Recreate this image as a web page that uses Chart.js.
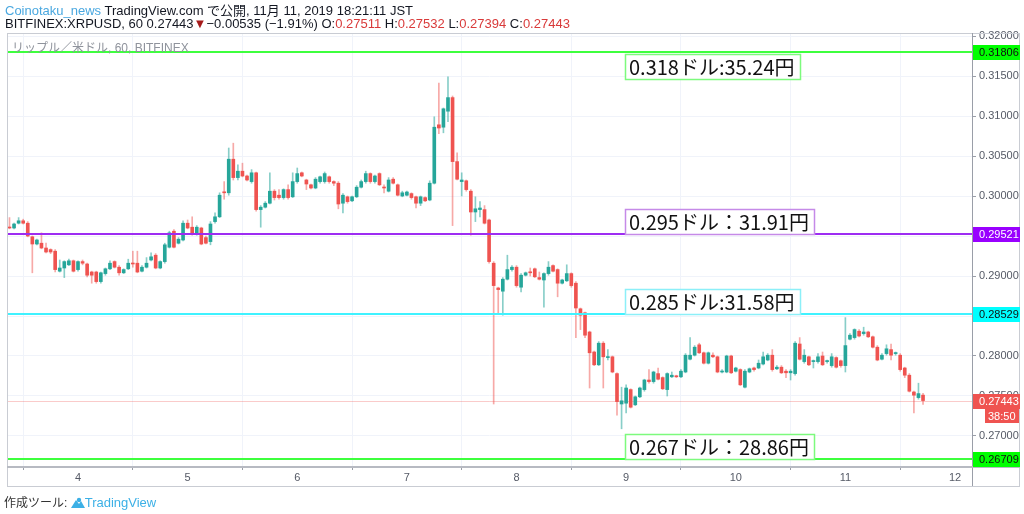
<!DOCTYPE html>
<html>
<head>
<meta charset="utf-8">
<script src="https://cdn.jsdelivr.net/npm/chart.js@4.4.0/dist/chart.umd.min.js"></script>
<style>
  body { margin: 0; background: #fff; }
  #wrap { position: relative; width: 1024px; height: 514px; overflow: hidden; font-family: "Liberation Sans", Arial, "Noto Sans CJK JP", sans-serif; }
  #chart { position: absolute; left: 0; top: 0; }
  .txt { position: absolute; white-space: nowrap; color: #131722; }
  .hd { left: 5px; font-size: 13px; line-height: 15px; }
  .blue { color: #4aa8e0; }
  .r { color: #d93a3a; }
  .dn { color: #a61b1b; font-size: 13px; }
  #sym { left: 12px; top: 38px; font-size: 12px; color: #8f939c; }
  #foot { left: 4px; top: 493px; font-size: 12px; color: #333; }
  #foot .tv { color: #3cb0e6; font-size: 13px; }
</style>
</head>
<body>
<div id="wrap">
  <canvas id="chart" width="1024" height="514"></canvas>
  <div class="txt hd" style="top:3px"><span class="blue">Coinotaku_news</span> TradingView.com で公開, 11月 11, 2019 18:21:11 JST</div>
  <div class="txt hd" style="top:16px">BITFINEX:XRPUSD, 60 0.27443<span class="dn">▼</span>−0.00535 (−1.91%) O:<span class="r">0.27511</span> H:<span class="r">0.27532</span> L:<span class="r">0.27394</span> C:<span class="r">0.27443</span></div>
  <div class="txt" id="sym">リップル／米ドル, 60, BITFINEX</div>
  <div class="txt" id="foot">作成ツール: <svg width="14" height="11" viewBox="0 0 14 11" style="vertical-align:-1px"><path d="M0 11 L5 3 L8 7 L10 4 L14 11 Z" fill="#3cb0e6"/><circle cx="8" cy="3" r="2.2" fill="#3cb0e6"/></svg><span class="tv">TradingView</span></div>
</div>
<script>
// 60-minute candles, XRP/USD, starting Nov 3 09:00
const firstBar = { day: 3, hour: 9 };

const open = [
  .2961, .2960, .2966, .2969, .2966, .2949, .2940, .2941, .2935, .2933,
  .2931, .2906, .2910, .2914, .2919, .2908, .2918, .2915, .2905, .2905,
  .2893, .2903, .2909, .2918, .2911, .2904, .2909, .2916, .2916, .2906,
  .2911, .2920, .2926, .2910, .2918, .2936, .2956, .2941, .2945, .2966,
  .2961, .2953, .2960, .2948, .2943, .2968, .2974, .3005, .3004, .3046,
  .3023, .3031, .3025, .3018, .3029, .2983, .2986, .2991, .3006, .3001,
  .2998, .3008, .2999, .3018, .3029, .3020, .3014, .3010, .3018, .3018,
  .3024, .3018, .3016, .2991, .2999, .2994, .2999, .3011, .3018, .3028,
  .3018, .3028, .3011, .3006, .3021, .3014, .3000, .3001, .3003, .2999,
  .2991, .2998, .2995, .3016, .3089, .3086, .3106, .3123, .3043, .3018,
  .3019, .3006, .2980, .2983, .2983, .2970, .2916, .2885, .2881, .2896,
  .2908, .2911, .2886, .2901, .2905, .2909, .2898, .2895, .2903, .2913,
  .2908, .2891, .2894, .2903, .2891, .2859, .2854, .2830, .2805, .2789,
  .2816, .2798, .2799, .2778, .2740, .2741, .2758, .2739, .2749, .2758,
  .2770, .2768, .2778, .2773, .2758, .2774, .2775, .2774, .2780, .2796,
  .2801, .2814, .2804, .2791, .2801, .2799, .2780, .2780, .2800, .2781,
  .2783, .2761, .2780, .2785, .2785, .2790, .2795, .2801, .2784, .2786,
  .2781, .2779, .2778, .2815, .2793, .2799, .2793, .2793, .2800, .2793,
  .2788, .2798, .2794, .2788, .2821, .2823, .2831, .2828, .2830, .2824,
  .2811, .2796, .2803, .2808, .2803, .2801, .2785, .2776, .2755, .2748,
  .27511
];
const high = [
  .2973, .2966, .2973, .2971, .2968, .2950, .2946, .2954, .2941, .2934,
  .2933, .2920, .2919, .2921, .2920, .2919, .2920, .2916, .2906, .2906,
  .2905, .2910, .2919, .2919, .2913, .2909, .2921, .2931, .2931, .2913,
  .2923, .2929, .2928, .2919, .2941, .2956, .2958, .2948, .2969, .2970,
  .2974, .2963, .2961, .2950, .2968, .2979, .3004, .3018, .3060, .3066,
  .3039, .3041, .3026, .3033, .3030, .2988, .2993, .3029, .3008, .3008,
  .3009, .3014, .3029, .3035, .3030, .3021, .3015, .3023, .3025, .3030,
  .3025, .3019, .3018, .3003, .3000, .3000, .3013, .3020, .3031, .3029,
  .3026, .3029, .3014, .3023, .3023, .3015, .3006, .3006, .3004, .3000,
  .3000, .2999, .3019, .3099, .3141, .3110, .3149, .3125, .3054, .3029,
  .3020, .3008, .2999, .2993, .2988, .2971, .2918, .2886, .2898, .2926,
  .2913, .2913, .2903, .2905, .2910, .2910, .2905, .2904, .2918, .2914,
  .2909, .2896, .2914, .2904, .2893, .2860, .2855, .2831, .2806, .2818,
  .2818, .2808, .2800, .2779, .2761, .2764, .2759, .2750, .2761, .2771,
  .2783, .2781, .2785, .2774, .2779, .2780, .2776, .2783, .2803, .2823,
  .2813, .2816, .2805, .2805, .2804, .2800, .2783, .2801, .2801, .2786,
  .2784, .2783, .2785, .2786, .2795, .2805, .2803, .2808, .2788, .2788,
  .2783, .2783, .2818, .2823, .2808, .2800, .2795, .2803, .2805, .2795,
  .2803, .2799, .2795, .2848, .2828, .2834, .2833, .2836, .2831, .2825,
  .2813, .2803, .2814, .2815, .2805, .2803, .2786, .2778, .2756, .2766,
  .27532
];
const low = [
  .2959, .2959, .2965, .2965, .2949, .2904, .2939, .2934, .2929, .2928,
  .2905, .2905, .2898, .2913, .2905, .2906, .2914, .2899, .2891, .2891,
  .2891, .2901, .2908, .2910, .2901, .2903, .2908, .2911, .2904, .2905,
  .2910, .2919, .2909, .2909, .2916, .2935, .2935, .2940, .2944, .2959,
  .2951, .2951, .2939, .2940, .2939, .2966, .2973, .2996, .3001, .3020,
  .3020, .3024, .3019, .3016, .2981, .2961, .2985, .2990, .2995, .2996,
  .2996, .2996, .2998, .3016, .3024, .3008, .3009, .3009, .3016, .3016,
  .3016, .3013, .2984, .2979, .2991, .2993, .2998, .3010, .3016, .3016,
  .3016, .3013, .3004, .3005, .3015, .3000, .2999, .3000, .2996, .2985,
  .2988, .2993, .2994, .3015, .3078, .3079, .3093, .2963, .3020, .3000,
  .3006, .2951, .2968, .2974, .2965, .2916, .2740, .2854, .2851, .2895,
  .2906, .2886, .2880, .2900, .2900, .2898, .2895, .2861, .2901, .2905,
  .2874, .2890, .2893, .2886, .2823, .2833, .2823, .2760, .2788, .2788,
  .2760, .2795, .2779, .2726, .2709, .2729, .2735, .2738, .2748, .2756,
  .2766, .2766, .2770, .2758, .2750, .2773, .2773, .2773, .2779, .2795,
  .2800, .2803, .2790, .2790, .2798, .2779, .2779, .2779, .2778, .2780,
  .2763, .2760, .2779, .2781, .2784, .2789, .2794, .2781, .2783, .2778,
  .2773, .2770, .2776, .2795, .2791, .2788, .2785, .2791, .2788, .2791,
  .2786, .2785, .2786, .2780, .2820, .2821, .2824, .2826, .2823, .2810,
  .2794, .2795, .2801, .2795, .2801, .2781, .2773, .2755, .2729, .2746,
  .27394
];
const close = [
  .2960, .2965, .2969, .2966, .2950, .2940, .2945, .2935, .2930, .2930,
  .2908, .2910, .2918, .2919, .2906, .2918, .2916, .2901, .2901, .2893,
  .2904, .2909, .2916, .2911, .2904, .2908, .2916, .2915, .2905, .2911,
  .2916, .2924, .2910, .2918, .2939, .2954, .2936, .2946, .2966, .2960,
  .2953, .2961, .2940, .2941, .2965, .2974, .3001, .3004, .3046, .3023,
  .3031, .3025, .3020, .3029, .2983, .2986, .2991, .3006, .2998, .2998,
  .3008, .2998, .3018, .3028, .3025, .3015, .3010, .3021, .3024, .3028,
  .3018, .3016, .2990, .3001, .2993, .2999, .3011, .3018, .3028, .3018,
  .3025, .3014, .3010, .3020, .3016, .3001, .3004, .3005, .2998, .2991,
  .2999, .2994, .3016, .3086, .3085, .3109, .3123, .3043, .3021, .3020,
  .3008, .2980, .2984, .2985, .2966, .2918, .2888, .2883, .2896, .2908,
  .2911, .2888, .2901, .2904, .2904, .2899, .2896, .2903, .2911, .2906,
  .2891, .2895, .2903, .2888, .2860, .2851, .2826, .2804, .2789, .2816,
  .2799, .2799, .2780, .2743, .2744, .2760, .2736, .2749, .2760, .2770,
  .2768, .2780, .2771, .2759, .2778, .2776, .2774, .2781, .2801, .2801,
  .2811, .2804, .2791, .2804, .2799, .2780, .2781, .2800, .2779, .2785,
  .2764, .2781, .2784, .2783, .2791, .2799, .2801, .2783, .2786, .2779,
  .2779, .2781, .2816, .2796, .2801, .2789, .2794, .2799, .2789, .2794,
  .2799, .2786, .2788, .2813, .2826, .2833, .2825, .2830, .2824, .2811,
  .2795, .2801, .2809, .2801, .2804, .2783, .2776, .2756, .2751, .2753,
  .27443
];

// horizontal levels drawn on the chart and their notes
const levels = [0.31806, 0.29521, 0.28529, 0.26709];
const levelNotes = ['0.318ドル:35.24円', '0.295ドル：31.91円', '0.285ドル:31.58円', '0.267ドル：28.86円'];
const lastPrice = 0.27443;
const countdown = '38:50';
const dayTicks = [4, 5, 6, 7, 8, 9, 10, 11, 12];

const levelStyle = [
  { line: '#3dff3d', box: '#7dfa7d', tag: '#00ff00', tagText: '#111', below: true },
  { line: '#9d2cf2', box: '#c58ae8', tag: '#9900ff', tagText: '#fff', below: false },
  { line: '#40f2ff', box: '#8ceff8', tag: '#00ffff', tagText: '#111', below: false },
  { line: '#3dff3d', box: '#7dfa7d', tag: '#00ff00', tagText: '#111', below: false }
];
const UP = '#26a69a', DOWN = '#ef5350';
const UP_WICK = 'rgba(38,166,154,0.55)', DOWN_WICK = 'rgba(239,83,80,0.5)';

const times = open.map((_, i) => firstBar.day + (firstBar.hour + i) / 24);
const isUp = i => close[i] >= open[i];

const overlay = {
  id: 'overlay',
  beforeDatasetsDraw(chart) {
    const { ctx, chartArea: a, scales: { y } } = chart;
    const py = Math.round(y.getPixelForValue(lastPrice)) + 0.5;
    ctx.save();
    ctx.strokeStyle = 'rgba(239,83,80,0.3)';
    ctx.lineWidth = 1;
    ctx.beginPath(); ctx.moveTo(a.left, py); ctx.lineTo(a.right, py); ctx.stroke();
    ctx.restore();
  },
  afterDatasetsDraw(chart) {
    const { ctx, chartArea: a, scales: { x, y } } = chart;
    ctx.save();
    levels.forEach((v, k) => {
      const py = Math.round(y.getPixelForValue(v));
      ctx.strokeStyle = levelStyle[k].line;
      ctx.lineWidth = 2;
      ctx.beginPath(); ctx.moveTo(a.left, py); ctx.lineTo(a.right, py); ctx.stroke();
    });
    ctx.font = '20px "Noto Sans CJK JP", "DejaVu Sans", sans-serif';
    ctx.textBaseline = 'middle';
    levels.forEach((v, k) => {
      const py = Math.round(y.getPixelForValue(v));
      const s = levelStyle[k];
      const bx = Math.round(x.getPixelForValue(9)) - 1;
      const w = Math.ceil(ctx.measureText(levelNotes[k]).width) + 9;
      const h = 25;
      const by = s.below ? py + 2 : py - h;
      ctx.fillStyle = '#fff';
      ctx.fillRect(bx, by, w, h);
      ctx.strokeStyle = s.box;
      ctx.lineWidth = 1.5;
      ctx.strokeRect(bx + 0.5, by + 0.5, w, h);
      ctx.fillStyle = '#111';
      ctx.fillText(levelNotes[k], bx + 4, by + h / 2 + 1);
    });
    ctx.restore();
  },
  afterDraw(chart) {
    const { ctx, chartArea: a, scales: { x, y } } = chart;
    ctx.save();
    // pane borders
    ctx.strokeStyle = '#c9ccd3';
    ctx.lineWidth = 1;
    ctx.strokeRect(a.left + 0.5, a.top + 0.5, 1019 - a.left, x.bottom - a.top);
    ctx.strokeStyle = '#9a9ea8';
    ctx.beginPath(); ctx.moveTo(a.right + 0.5, a.top); ctx.lineTo(a.right + 0.5, x.bottom); ctx.stroke();
    ctx.strokeStyle = '#b7bac2';
    ctx.lineWidth = 2;
    ctx.beginPath(); ctx.moveTo(a.left, a.bottom + 1); ctx.lineTo(1020, a.bottom + 1); ctx.stroke();
    // price tags on the right axis
    ctx.font = '11px "Liberation Sans", Arial, sans-serif';
    ctx.textBaseline = 'middle';
    const tag = (v, bg, fg) => {
      const py = Math.round(y.getPixelForValue(v));
      ctx.fillStyle = bg;
      ctx.fillRect(a.right + 1, py - 7, 1020 - a.right - 1, 15);
      ctx.fillStyle = fg;
      ctx.fillText(v.toFixed(5), a.right + 7, py + 1);
      return py;
    };
    levels.forEach((v, k) => tag(v, levelStyle[k].tag, levelStyle[k].tagText));
    const lp = tag(lastPrice, DOWN, '#fff');
    ctx.fillStyle = DOWN;
    ctx.fillRect(985, lp + 8, 34, 14);
    ctx.fillStyle = '#fff';
    ctx.fillText(countdown, 988, lp + 16);
    ctx.restore();
  }
};

new Chart(document.getElementById('chart').getContext('2d'), {
  type: 'bar',
  data: {
    datasets: [{
      data: times.map((t, i) => ({ x: t, y: [open[i], close[i]] })),
      backgroundColor: c => isUp(c.dataIndex) ? UP : DOWN,
      barThickness: 3,
      minBarLength: 1,
      grouped: false,
      borderWidth: 0
    }, {
      data: times.map((t, i) => ({ x: t, y: [low[i], high[i]] })),
      backgroundColor: c => isUp(c.dataIndex) ? UP_WICK : DOWN_WICK,
      barThickness: 1,
      grouped: false,
      borderWidth: 0
    }]
  },
  options: {
    responsive: false,
    animation: false,
    events: [],
    layout: { padding: { left: 7, right: 4, top: 33, bottom: 28 } },
    plugins: { legend: { display: false }, tooltip: { enabled: false } },
    scales: {
      x: {
        type: 'linear',
        min: 3.3523,
        max: 12.155,
        offset: false,
        afterFit: s => { s.height = 20; },
        afterBuildTicks: s => { s.ticks = dayTicks.map(v => ({ value: v })); },
        ticks: { color: '#555a66', font: { size: 11, family: '"Liberation Sans", Arial' }, padding: 1, callback: v => String(v) },
        grid: { color: '#f0f3fa', tickColor: '#9a9ea8', tickLength: 4 },
        border: { display: false }
      },
      y: {
        position: 'right',
        min: 0.26625,
        max: 0.320375,
        afterFit: s => { s.width = 48; },
        ticks: { stepSize: 0.005, includeBounds: false, color: '#555a66', font: { size: 11, family: '"Liberation Sans", Arial' }, padding: 3, callback: v => v.toFixed(5) },
        grid: { color: '#f0f3fa', tickColor: '#9a9ea8', tickLength: 4 },
        border: { display: false }
      }
    }
  },
  plugins: [overlay]
});
</script>
</body>
</html>
